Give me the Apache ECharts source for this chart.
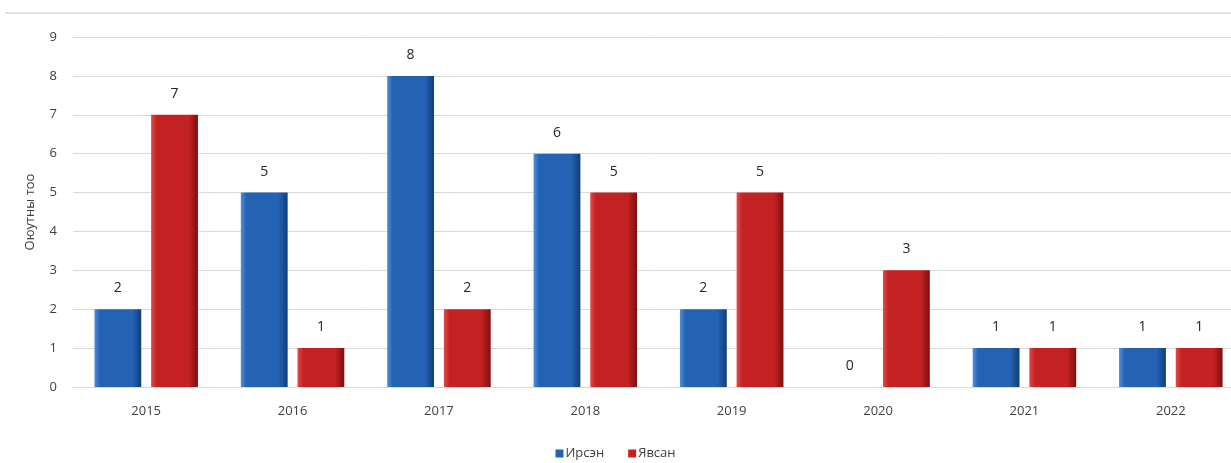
<!DOCTYPE html>
<html><head><meta charset="utf-8">
<script src="https://cdn.jsdelivr.net/npm/echarts@6/dist/echarts.min.js"></script>
<style>html,body{margin:0;padding:0;background:#fff}#c{width:1231px;height:463px}</style>
</head><body><div id="c"></div>
<script>
var categories = ['2015','2016','2017','2018','2019','2020','2021','2022'];
var irsen = [2,5,8,6,2,0,1,1];
var yavsan = [7,1,2,5,5,3,1,1];
var seriesNames = ['Ирсэн','Явсан'];
var yAxisName = 'Оюутны тоо';

function grad(c1,c2,c3){
  return new echarts.graphic.LinearGradient(0,0,1,0,[
    {offset:0,color:c1},{offset:0.12,color:c2},{offset:0.8,color:c2},{offset:1,color:c3}]);
}
var font = '"Open Sans", sans-serif';
var chart = echarts.init(document.getElementById('c'));
chart.setOption({
  animation:false,
  textStyle:{fontFamily:font},
  graphic:[{type:'line',shape:{x1:5,y1:13,x2:1231,y2:13},style:{stroke:'#d9d9d9',lineWidth:1.5}}],
  grid:{left:73,width:1171,top:37,height:350,outerBoundsMode:'none',containLabel:false},
  legend:{bottom:-2,left:'center',itemWidth:8,itemHeight:8,itemGap:24,icon:'rect',
    textStyle:{fontSize:13,color:'#404040',fontFamily:font,padding:[0,0,0,-3]}},
  xAxis:{type:'category',data:categories,
    axisLine:{lineStyle:{color:'#d9d9d9'}},axisTick:{show:false},
    axisLabel:{fontSize:13,color:'#404040',margin:18}},
  yAxis:{type:'value',min:0,max:9,interval:1,
    name:yAxisName,nameLocation:'middle',nameGap:36,nameRotate:90,
    nameTextStyle:{fontSize:13,color:'#404040'},
    axisLine:{show:false},axisTick:{show:false},
    splitLine:{lineStyle:{color:'#d9d9d9'}},
    axisLabel:{fontSize:13,color:'#404040',margin:16}},
  series:[
    {name:seriesNames[0],type:'bar',data:irsen,barWidth:'32%',barGap:'21%',
     itemStyle:{color:grad('#4f8fdc','#2463b3','#103d7a')},
     label:{show:true,position:'top',distance:14,fontSize:14,color:'#262626'}},
    {name:seriesNames[1],type:'bar',data:yavsan,barWidth:'32%',barGap:'21%',
     itemStyle:{color:grad('#e24a4a','#c42222','#7e0f0f')},
     label:{show:true,position:'top',distance:14,fontSize:14,color:'#262626'}}
  ]
});
chart.setOption({legend:{data:[{name:seriesNames[0],itemStyle:{color:'#2463b3'}},{name:seriesNames[1],itemStyle:{color:'#c42222'}}]}});
</script></body></html>
